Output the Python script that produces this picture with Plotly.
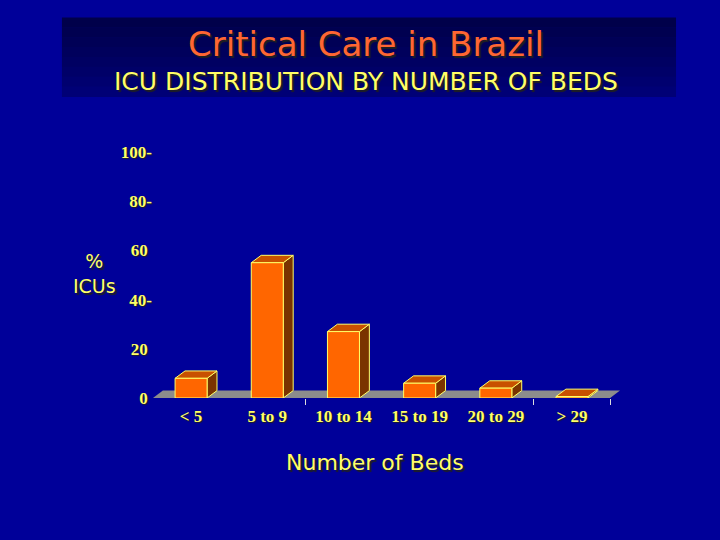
import plotly.graph_objects as go

# data
categories = ["< 5", "5 to 9", "10 to 14", "15 to 19", "20 to 29", "> 29"]
pct_icus = [8, 55, 27, 6, 4, 0.6]
y_ticks = [0, 20, 40, 60, 80, 100]
y_ticktext = ["0\u00a0", "20\u00a0", "40-", "60\u00a0", "80-", "100-"]

BG = "#000099"
YELLOW = "#FFFF66"
FRONT = "#FF6600"
SIDE = "#7A3300"
TOP = "#C85000"
FLOOR = "#8C8C8C"
TXT_FONT = "DejaVu Sans, Comic Sans MS, sans-serif"
NUM_FONT = "Liberation Serif, Times New Roman, serif"

w = 0.42    # bar width (category units)
dx = 0.13   # depth shift in x
dy = 3.0    # depth shift in y

fig = go.Figure()

# floor of the 3d chart
n = len(categories)
fig.add_trace(go.Scatter(
    x=[-0.5, n - 0.5, n - 0.5 + dx, -0.5 + dx, -0.5],
    y=[0, 0, dy, dy, 0],
    fill="toself", fillcolor=FLOOR, mode="lines",
    line=dict(width=0, color=FLOOR), hoverinfo="skip", showlegend=False
))

for i, v in enumerate(pct_icus):
    x0, x1 = i - w / 2, i + w / 2
    # right side
    fig.add_trace(go.Scatter(
        x=[x1, x1 + dx, x1 + dx, x1, x1],
        y=[0, dy, v + dy, v, 0],
        fill="toself", fillcolor=SIDE, mode="lines",
        line=dict(width=1, color=YELLOW), hoverinfo="skip", showlegend=False
    ))
    # top
    fig.add_trace(go.Scatter(
        x=[x0, x0 + dx, x1 + dx, x1, x0],
        y=[v, v + dy, v + dy, v, v],
        fill="toself", fillcolor=TOP, mode="lines",
        line=dict(width=1, color=YELLOW), hoverinfo="skip", showlegend=False
    ))
    # front face
    fig.add_trace(go.Scatter(
        x=[x0, x1, x1, x0, x0],
        y=[0, 0, v, v, 0],
        fill="toself", fillcolor=FRONT, mode="lines",
        line=dict(width=1, color=YELLOW),
        name=categories[i], hovertemplate="%{text}: " + str(v) + "%<extra></extra>",
        text=[categories[i]] * 5, showlegend=False
    ))

# title band (dark gradient strip)
strips = ["#00004A", "#000050", "#000056", "#00005C", "#000062", "#000068", "#00006F", "#000076"]
y_top, y_bot = 1.545, 1.224
step = (y_top - y_bot) / len(strips)
for k, c in enumerate(strips):
    fig.add_shape(type="rect", xref="paper", yref="paper",
                  x0=-0.195, x1=1.12, y0=y_top - (k + 1) * step, y1=y_top - k * step + 0.002,
                  fillcolor=c, line=dict(width=0), layer="below")

shadow = "2px 2px 1px #202020"
def label(text, x, y, size, color=YELLOW):
    fig.add_annotation(text=text, xref="paper", yref="paper", x=x, y=y,
                       xanchor="center", yanchor="middle", showarrow=False, align="center",
                       font=dict(family=TXT_FONT, size=size, color=color, shadow=shadow))

label("Critical Care in Brazil", 0.456, 1.437, 34, "#FF6633")
label("ICU DISTRIBUTION BY NUMBER OF BEDS", 0.456, 1.285, 25)
label("%<br>ICUs", -0.125, 0.508, 19)
label("Number of Beds", 0.476, -0.262, 22)

tickfont = dict(family=NUM_FONT, size=17, color=YELLOW, weight="bold",
                shadow="1px 1px 1px #202020")
fig.update_layout(
    width=720, height=540,
    margin=dict(l=153, r=100, t=152, b=142),
    paper_bgcolor=BG, plot_bgcolor=BG,
    xaxis=dict(
        range=[-0.5, n - 0.5 + dx], showgrid=False, zeroline=False, showline=False,
        tickmode="array", tickvals=list(range(n)), ticktext=categories, ticks="",
        tickfont=tickfont, ticklabelstandoff=6,
        minor=dict(tickvals=[1.5, 4.5, 5.5], ticks="outside", ticklen=6,
                   tickcolor="#DDDDDD", tickwidth=1),
        fixedrange=True
    ),
    yaxis=dict(
        range=[0, 100], showgrid=False, zeroline=False, showline=False,
        tickmode="array", tickvals=y_ticks, ticktext=y_ticktext, ticks="",
        tickfont=tickfont, ticklabelstandoff=0, fixedrange=True
    ),
    showlegend=False
)

fig.write_html("out.html", config={"displayModeBar": False},
               post_script="document.body.style.margin='0';")
